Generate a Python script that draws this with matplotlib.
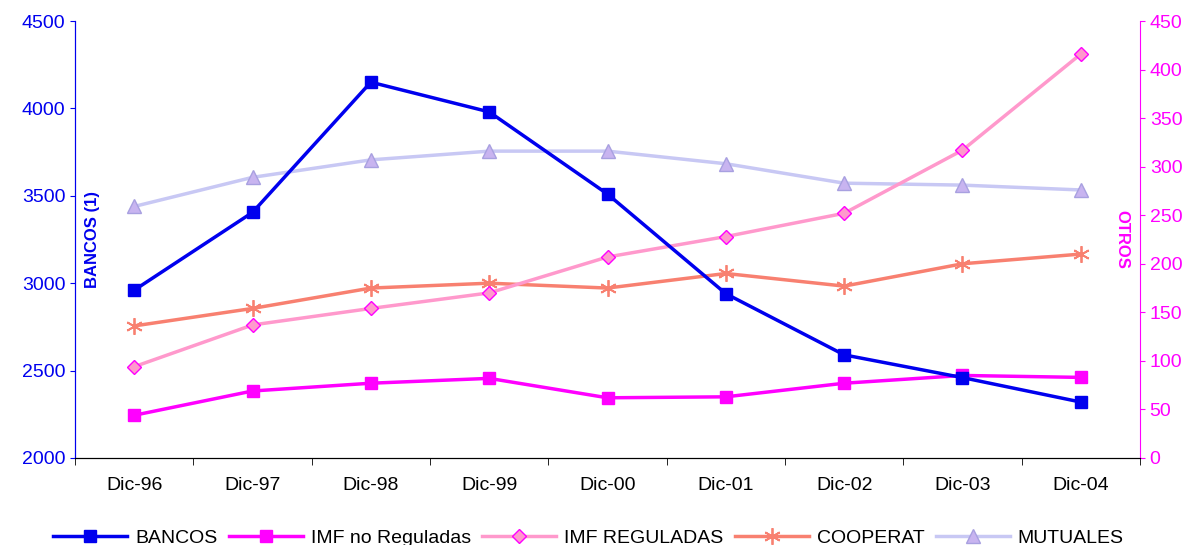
import matplotlib.pyplot as plt
import numpy as np

cats = ['Dic-96', 'Dic-97', 'Dic-98', 'Dic-99', 'Dic-00', 'Dic-01', 'Dic-02', 'Dic-03', 'Dic-04']
bancos = [2960, 3405, 4150, 3980, 3510, 2940, 2590, 2460, 2320]
imf_no_reg = [44, 69, 77, 82, 62, 63, 77, 85, 83]
imf_reg = [94, 137, 154, 170, 207, 228, 252, 317, 416]
cooperat = [136, 154, 175, 180, 175, 190, 177, 200, 210]
mutuales = [259, 289, 307, 316, 316, 303, 283, 281, 276]

plt.rcParams['font.family'] = 'Liberation Sans'
fig = plt.figure(figsize=(12.01, 5.45), dpi=100)
ax = fig.add_axes([75/1201, 1-458/545, 1065/1201, 437/545])
ax2 = ax.twinx()
x = np.arange(len(cats))

ax2.plot(x, mutuales, color='#c8c8f4', lw=2.5, marker='^', ms=10, mfc='#c8b4f0', mec='#a8a0e0', label='MUTUALES')
ax2.plot(x, cooperat, color='#f88070', lw=2.5, marker=(6, 2, 0), ms=12, mec='#f88070', mew=1.3, label='COOPERAT')
ax2.plot(x, imf_reg, color='#ff99cc', lw=2.5, marker='D', ms=7, mfc='#ff99cc', mec='#ff00ff', label='IMF REGULADAS')
ax2.plot(x, imf_no_reg, color='#ff00ff', lw=2.5, marker='s', ms=9, label='IMF no Reguladas')
l1, = ax.plot(x, bancos, color='#0000ee', lw=2.5, marker='s', ms=9, label='BANCOS')
ax.set_zorder(ax2.get_zorder() + 1)
ax.patch.set_visible(False)

ax.set_xlim(-0.5, 8.5)
ax.set_ylim(2000, 4500)
ax.set_yticks(range(2000, 4501, 500))
ax2.set_ylim(0, 450)
ax2.set_yticks(range(0, 451, 50))
ax.set_xticks(x)
ax.set_xticklabels(cats, fontsize=14)
ax.set_xticks(np.arange(-0.5, 9, 1), minor=True)
ax.tick_params(axis='x', which='major', length=0, pad=14)
ax.tick_params(axis='x', which='minor', length=5)
ax.tick_params(axis='y', colors='#0000ee', labelsize=14)
ax2.tick_params(axis='y', colors='#ff00ff', labelsize=14)
for a in (ax, ax2):
    a.spines['top'].set_visible(False)
ax.spines['left'].set_color('#0000ee')
ax2.spines['left'].set_color('#0000ee')
ax2.spines['right'].set_color('#ff00ff')
ax.spines['right'].set_visible(False)

ax.text(-0.35, 3250, 'BANCOS (1)', color='#0000ee', fontsize=12, fontweight='bold', rotation=90, ha='center', va='center')
ax.text(8.35, 3250, 'OTROS', color='#ff00ff', fontsize=12, fontweight='bold', rotation=-90, ha='center', va='center')

h2, lab2 = ax2.get_legend_handles_labels()
handles = [l1] + h2[::-1]
labels = ['BANCOS'] + lab2[::-1]
fig.legend(handles, labels, loc='lower center', ncol=5, frameon=False, fontsize=14,
           bbox_to_anchor=(0.49, -0.035), handlelength=3.8, columnspacing=0.6, handletextpad=0.4)
fig.savefig('out.png', dpi=100)
